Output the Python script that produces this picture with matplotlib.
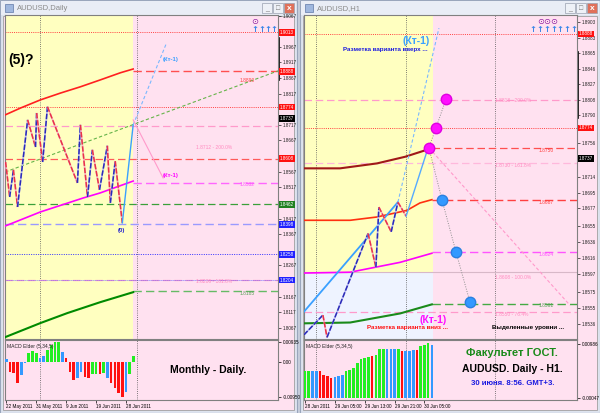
import matplotlib
matplotlib.use("Agg")
import matplotlib.pyplot as plt
from matplotlib.patches import Rectangle

W, H = 600, 413
FONT = ["Liberation Sans", "DejaVu Sans"]
plt.rcParams["font.family"] = FONT

PINK = "#ffe1f0"
YELLOW = "#ffffc0"
LIGHTBLUE = "#eef3ff"
NAVY = "#2b2bb8"
ZRED = "#e8324a"
SKY = "#3aa0ff"
TICK_FS = 3.3

# ---------------- daily chart (left) ----------------
d_dates = ["22 May 2011", "31 May 2011", "9 Jun 2011", "19 Jun 2011", "28 Jun 2011"]
d_date_bars = [0, 8, 16, 24, 32]
d_separators = [9, 35]
d_price_ticks = [1.9067, 1.8967, 1.8917, 1.8867, 1.8817, 1.8717, 1.8667, 1.8567,
                 1.8517, 1.8417, 1.8367, 1.8267, 1.8167, 1.8117, 1.8067]

d_zz_bars = [-0.2, 0.9, 1.9, 3.0, 5.7, 7.8, 8.1, 9.7, 11.0, 19.0, 19.8, 21.7, 23.0,
             24.9, 27.0, 27.8, 29.1, 31.0]
d_zz_prices = [1.8598, 1.8486, 1.8573, 1.8454, 1.8733, 1.8646, 1.8755, 1.8598, 1.8775,
               1.8531, 1.8717, 1.8486, 1.8637, 1.8509, 1.8650, 1.8467, 1.8601, 1.8403]

d_red_ma_bars = [-0.3, 3.8, 9.1, 14.5, 19.8, 25.1, 30.5, 33.9]
d_red_ma = [1.8749, 1.8771, 1.8797, 1.8819, 1.8839, 1.8861, 1.8884, 1.8896]
d_mag_ma_bars = [-0.3, 9.1, 20.6, 25.1, 33.9]
d_mag_ma = [1.8393, 1.8438, 1.8483, 1.8499, 1.8537]
d_grn_ma_bars = [-0.3, 9.1, 16.3, 25.1, 33.9]
d_grn_ma = [1.8037, 1.8082, 1.8114, 1.8149, 1.8181]

d_trend_bars = [-0.3, 72.6]
d_trend = [1.8566, 1.8890]
d_up_bars = [31.0, 33.9]
d_up = [1.8403, 1.8717]
d_up_proj_bars = [33.9, 42.7]
d_up_proj = [1.8717, 1.8976]
d_dn_proj_bars = [33.9, 41.9]
d_dn_proj = [1.8733, 1.8547]

d_lvl_top = 1.9013
d_lvl_r1 = 1.8888
d_lvl_r2 = 1.8774
d_lvl_200 = 1.8712
d_lvl_r3 = 1.8608
d_lvl_mag = 1.8532
d_lvl_grn = 1.8462
d_lvl_low = 1.8398
d_lvl_blue = 1.8303
d_lvl_162 = 1.8220
d_lvl_grn2 = 1.8185
d_close = 1.8737

d_macd = [0.0016, -0.0042, -0.0047, -0.0094, -0.0058, -0.0003, 0.0041, 0.0051, 0.0044,
          0.0020, 0.0031, 0.0056, 0.0078, 0.0095, 0.0095, 0.0047, 0.0020, -0.0042,
          -0.0081, -0.0070, -0.0045, -0.0066, -0.0070, -0.0055, -0.0055, -0.0055,
          -0.0050, -0.0070, -0.0097, -0.0120, -0.0140, -0.0159, -0.0136, -0.0055, 0.0031]
d_macd_col = "brrrbbgggbbggggbrrrbbrrggrgbrrrrbgg"

# ---------------- H1 chart (right) ----------------
h_dates = ["28 Jun 2011", "29 Jun 05:00", "29 Jun 13:00", "29 Jun 21:00", "30 Jun 05:00"]
h_date_bars = [0, 8, 16, 24, 32]
h_separators = [3, 27, 51]
h_price_ticks = [1.8903, 1.8883, 1.8865, 1.8846, 1.8827, 1.8808, 1.8790, 1.8756,
                 1.8714, 1.8695, 1.8677, 1.8655, 1.8636, 1.8616, 1.8597, 1.8575, 1.8555,
                 1.8536]

h_zz_bars = [-0.3, 4.8, 5.9, 16.9, 19.0, 19.8, 23.1, 24.9, 27.1]
h_zz_prices = [1.8523, 1.8547, 1.8520, 1.8646, 1.8605, 1.8678, 1.8648, 1.8684, 1.8667]

h_trend_bars = [-0.3, 24.9]
h_trend = [1.8551, 1.8684]
h_leg_bars = [27.1, 33.0]
h_leg = [1.8667, 1.8750]
h_proj_bars = [24.9, 35.9]
h_proj = [1.8684, 1.8895]

h_maroon_bars = [-0.3, 9.4, 19.3, 26.8, 33.0]
h_maroon = [1.8725, 1.8725, 1.8731, 1.8739, 1.8748]
h_red_bars = [-0.3, 12.1, 19.3, 27.3, 30.8, 34.0]
h_red = [1.8662, 1.8662, 1.8666, 1.8674, 1.8683, 1.8687]
h_mag_bars = [-0.3, 12.1, 25.5, 34.0]
h_mag = [1.8598, 1.8599, 1.8611, 1.8622]
h_grn_bars = [-0.3, 12.1, 25.5, 34.0]
h_grn = [1.8537, 1.8538, 1.8549, 1.8560]

h_up_pts_bars = [33.2, 35.1, 37.8]
h_up_pts = [1.8750, 1.8774, 1.8809]
h_dn_pts_bars = [36.7, 40.5, 44.2]
h_dn_pts = [1.8687, 1.8623, 1.8563]
h_diag_bars = [33.2, 71.0]
h_diag = [1.8750, 1.8559]

h_lvl_r1 = 1.8888
h_lvl_r2 = 1.8774
h_lvl_200 = 1.8808
h_lvl_red = 1.8750
h_lvl_162 = 1.8731
h_lvl_red2 = 1.8687
h_lvl_mag = 1.8624
h_lvl_100 = 1.8599
h_lvl_grn = 1.8561
h_lvl_76 = 1.8551
h_close = 1.8737

h_macd = [0.0050, 0.0050, 0.0049, 0.0049, 0.0049, 0.0043, 0.0040, 0.0036, 0.0038,
          0.0041, 0.0043, 0.0049, 0.0052, 0.0056, 0.0065, 0.0072, 0.0073, 0.0076,
          0.0077, 0.0080, 0.0091, 0.0091, 0.0091, 0.0091, 0.0091, 0.0091, 0.0087,
          0.0087, 0.0087, 0.0088, 0.0088, 0.0095, 0.0097, 0.0101, 0.0098]
h_macd_col = "ggbbrrrrbbbgggggggrgggbbbgrbbbrgggb"

MACD_COLORS = {"g": "#22ee22", "r": "#ff1010", "b": "#3399ff"}


def px_rect(x0, y0, x1, y1):
    return [x0 / W, 1 - y1 / H, (x1 - x0) / W, (y1 - y0) / H]


fig = plt.figure(figsize=(6, 4.13), dpi=100)
fig.patch.set_facecolor("#c8cfdc")

bg = fig.add_axes([0, 0, 1, 1])
bg.set_xlim(0, W)
bg.set_ylim(H, 0)
bg.axis("off")


def window(x0, x1, title):
    bg.add_patch(Rectangle((x0, 0), x1 - x0, H, fc="#dde3ee", ec="#9aa6bc", lw=0.8))
    bg.add_patch(Rectangle((x0 + 1, 1), x1 - x0 - 2, 14, fc="#e9edf6", ec="none"))
    bg.add_patch(Rectangle((x0 + 3, 16), x1 - x0 - 6, H - 19, fc=PINK, ec="#a0a0a0", lw=0.6))
    bg.add_patch(Rectangle((x0 + 5, 4), 8, 8, fc="#9fb7de", ec="#6078a8", lw=0.5))
    bg.text(x0 + 17, 8.5, title, fontsize=5.5, color="#8a8a8a", va="center", ha="left")
    for i, fc in enumerate(["#eef1f7", "#eef1f7", "#e0705a"]):
        bx = x1 - 35 + i * 11
        bg.add_patch(Rectangle((bx, 3), 10, 10, fc=fc, ec="#9aa0b0", lw=0.5))
    bg.text(x1 - 30, 9, "_", fontsize=5, color="#777", ha="center", va="center")
    bg.text(x1 - 19, 8, "□", fontsize=5, color="#777", ha="center", va="center")
    bg.text(x1 - 8, 8, "x", fontsize=6, color="white", ha="center", va="center",
            fontweight="bold")


window(0, 297, "AUDUSD,Daily")
window(300, 600, "AUDUSD,H1")


def style_axes(ax, xlim, ylim, ticks):
    ax.set_facecolor(PINK)
    ax.set_xlim(*xlim)
    ax.set_ylim(*ylim)
    ax.yaxis.tick_right()
    ax.set_yticks(ticks)
    ax.set_yticklabels([f"{t:.4f}" for t in ticks])
    ax.tick_params(axis="y", labelsize=TICK_FS, length=2, pad=1.5, width=0.5,
                   colors="#222222")
    ax.set_xticks([])
    for s in ax.spines.values():
        s.set_color("#808080")
        s.set_linewidth(0.8)


def tag(ax, price, fc, tc="white", text=None):
    ax.text(1.008, price, text or f"{price:.4f}", transform=ax.get_yaxis_transform(),
            fontsize=TICK_FS, color=tc, va="center", ha="left", clip_on=False, zorder=5,
            bbox=dict(boxstyle="square,pad=0.2", fc=fc, ec="none"))


def zigzag(ax, xs, ys):
    for i in range(len(xs) - 1):
        up = ys[i + 1] > ys[i]
        col = NAVY if up else ZRED
        under = "#b8b8f0" if up else "#f4b0c0"
        ax.plot(xs[i:i + 2], ys[i:i + 2], color=under, lw=1.2, zorder=4,
                solid_capstyle="butt")
        ax.plot(xs[i:i + 2], ys[i:i + 2], color=col, lw=1.1, zorder=4,
                ls=(0, (3.5, 1.2)), solid_capstyle="butt")


def macd_panel(ax, values, cols, xlim, ylim, yt, ytl, date_bars, dates, seps):
    ax.set_facecolor(PINK)
    ax.set_xlim(*xlim)
    ax.set_ylim(*ylim)
    ax.bar(range(len(values)), values, width=0.7,
           color=[MACD_COLORS[c] for c in cols], zorder=3)
    ax.yaxis.tick_right()
    ax.set_yticks(yt)
    ax.set_yticklabels(ytl)
    ax.tick_params(axis="y", labelsize=TICK_FS, length=2, pad=1.5, width=0.5)
    ax.set_xticks(date_bars)
    ax.set_xticklabels(dates, ha="left")
    ax.tick_params(axis="x", labelsize=TICK_FS, length=2, pad=1.2, width=0.5)
    for b in seps:
        ax.axvline(b, color="#555555", ls=(0, (1, 1.6)), lw=0.6, zorder=2)
    ax.text(0.008, 0.94, "MACD Elder (5,34,5)", transform=ax.transAxes, fontsize=3.6,
            color="#222222", va="top", ha="left")
    for s in ax.spines.values():
        s.set_color("#808080")
        s.set_linewidth(0.8)


# ---------- left main ----------
axL = fig.add_axes(px_rect(5, 15, 278, 339))
dxl = (-0.35, 72.6)
style_axes(axL, dxl, (1.8031, 1.9069), d_price_ticks)
axL.axvspan(dxl[0], 33.9, color=YELLOW, zorder=0, lw=0)
for b in d_separators:
    axL.axvline(b, color="#555555", ls=(0, (1, 1.6)), lw=0.6, zorder=1)

axL.axhline(d_lvl_top, color="#ff4040", ls=(0, (1, 1.2)), lw=0.7, zorder=2)
axL.axhline(d_lvl_r2, color="#ff4040", ls=(0, (1, 1.2)), lw=0.7, zorder=2)
axL.axhline(d_lvl_200, color="#ff9acb", ls=(0, (6, 3)), lw=0.9, zorder=2)
axL.axhline(d_lvl_r3, color="#ff5a5a", ls=(0, (6, 3)), lw=0.9, zorder=2)
axL.axhline(d_lvl_grn, color="#3aa03a", ls=(0, (6, 3)), lw=0.9, zorder=2)
axL.axhline(d_lvl_low, color="#9a9aff", ls=(0, (6, 3)), lw=1.0, zorder=2)
axL.axhline(d_lvl_blue, color="#3030ff", ls=(0, (1, 1.4)), lw=0.7, zorder=2)
axL.axhline(d_lvl_162, color="#ff9acb", ls=(0, (6, 3)), lw=0.9, zorder=2)
axL.axhline(d_lvl_162, color="#5050ff", ls=(0, (1, 1.4)), lw=0.6, zorder=2)
axL.hlines(d_lvl_r1, 33.9, dxl[1], color="#ff5050", ls=(0, (6, 3)), lw=1.0, zorder=2)
axL.hlines(d_lvl_mag, 33.9, dxl[1], color="#ff66ff", ls=(0, (6, 3)), lw=1.0, zorder=2)
axL.hlines(d_lvl_grn2, 33.9, dxl[1], color="#66bb66", ls=(0, (6, 3)), lw=1.0, zorder=2)

axL.plot(d_trend_bars, d_trend, color="#66b44a", ls=(0, (3, 2)), lw=0.8, zorder=2)
axL.plot(d_red_ma_bars, d_red_ma, color="#ff2020", lw=1.2, zorder=3)
axL.plot(d_mag_ma_bars, d_mag_ma, color="#ff00ff", lw=1.2, zorder=3)
axL.plot(d_grn_ma_bars, d_grn_ma, color="#008a00", lw=1.5, zorder=3)
zigzag(axL, d_zz_bars, d_zz_prices)
axL.plot(d_up_bars, d_up, color=SKY, lw=1.0, zorder=4)
axL.plot(d_up_proj_bars, d_up_proj, color="#7ab8ff", ls=(0, (3, 2)), lw=0.8, zorder=4)
axL.plot(d_dn_proj_bars, d_dn_proj, color="#ff9acb", lw=0.8, zorder=4)

small = dict(fontsize=3.5, ha="left", va="center", zorder=6)
axL.text(0.70, 0.590, "1.8712 - 200.0%", transform=axL.transAxes, color="#ff8ac0",
         **small)
axL.text(0.86, 0.798, "1.8890", transform=axL.transAxes, color="#ff4040", **small)
axL.text(0.86, 0.478, "1.8532", transform=axL.transAxes, color="#ff55ff", **small)
axL.text(0.70, 0.178, "1.8206 - 161.8%", transform=axL.transAxes, color="#ff8ac0",
         **small)
axL.text(0.86, 0.14, "1.8185", transform=axL.transAxes, color="#5aa05a", **small)

fig.text(8 / W, 1 - 60 / H, "(5)?", fontsize=10, fontweight="bold", color="black",
         va="center", ha="left")
fig.text(163 / W, 1 - 59 / H, "(Кт-1)", fontsize=4.3, fontweight="bold", color=SKY,
         va="center", ha="left")
fig.text(163 / W, 1 - 175 / H, "(Кт-1)", fontsize=4.3, fontweight="bold",
         color="#ff00ff", va="center", ha="left")
fig.text(118 / W, 1 - 230 / H, "(0)", fontsize=4.3, fontweight="bold", color="#2020d0",
         va="center", ha="left")
fig.text(255 / W, 1 - 21 / H, "⊙", fontsize=6, color="#9020a0", va="center",
         ha="center", family=["DejaVu Sans"])
for x in [255, 261.5, 268, 274]:
    fig.text(x / W, 1 - 30 / H, "↑", fontsize=6, fontweight="bold", color="#3a86e8",
             va="center", ha="center", family=["DejaVu Sans"])
bg.plot([247, 278], [36.5, 36.5], color="#22aa22", lw=1.2)
bg.plot([278.5, 278.5], [38, 80], color="black", lw=1.2)

tag(axL, d_lvl_top, "#ff1010")
tag(axL, d_lvl_r1, "#ff1010")
tag(axL, d_lvl_r2, "#ff1010")
tag(axL, d_close, "black")
tag(axL, d_lvl_r3, "#ff1010")
tag(axL, d_lvl_grn, "#208020")
tag(axL, d_lvl_low, "#2020ff")
tag(axL, d_lvl_blue, "#2020ff", text="1.8258")
tag(axL, d_lvl_162, "#2020ff", text="1.8204")

# ---------- left MACD ----------
axLm = fig.add_axes(px_rect(5, 340, 278, 400))
macd_panel(axLm, d_macd, d_macd_col, dxl, (-0.0173, 0.0103),
           [0.0094, 0.0, -0.0159], ["0.00935", "0.00", "-0.00950"],
           d_date_bars, d_dates, d_separators)
axLm.text(0.605, 0.5, "Monthly - Daily.", transform=axLm.transAxes, fontsize=7.5,
          fontweight="heavy", color="black", va="center", ha="left")

# ---------- right main ----------
axR = fig.add_axes(px_rect(304, 15, 577, 339))
hxl = (-0.27, 72.9)
style_axes(axR, hxl, (1.8518, 1.8911), h_price_ticks)
axR.fill_between([hxl[0], 34.3], h_lvl_100, 1.8911, color=YELLOW, zorder=0, lw=0)
axR.fill_between([hxl[0], 34.3], 1.8518, h_lvl_100, color=LIGHTBLUE, zorder=0, lw=0)
for b in h_separators:
    axR.axvline(b, color="#555555", ls=(0, (1, 1.6)), lw=0.6, zorder=1)

axR.axhline(h_lvl_r1, color="#ff4040", ls=(0, (1, 1.2)), lw=0.7, zorder=2)
axR.axhline(h_lvl_r2, color="#ff4040", ls=(0, (1, 1.2)), lw=0.7, zorder=2)
axR.axhline(h_lvl_200, color="#ff9acb", ls=(0, (6, 3)), lw=0.9, zorder=2)
axR.axhline(h_lvl_162, color="#ffb8dc", ls=(0, (6, 3)), lw=0.9, zorder=2)
axR.axhline(h_lvl_100, color="#d8b8c8", lw=0.8, zorder=2)
axR.axhline(h_lvl_76, color="#ff9acb", ls=(0, (6, 3)), lw=0.9, zorder=2)
axR.hlines(h_lvl_red, 34.0, hxl[1], color="#ff5050", ls=(0, (6, 3)), lw=0.9, zorder=2)
axR.hlines(h_lvl_red2, 34.0, hxl[1], color="#ff4040", ls=(0, (6, 3)), lw=1.0, zorder=2)
axR.hlines(h_lvl_mag, 34.0, hxl[1], color="#ff55ff", ls=(0, (6, 3)), lw=1.0, zorder=2)
axR.hlines(h_lvl_grn, 34.0, hxl[1], color="#44aa44", ls=(0, (6, 3)), lw=1.0, zorder=2)

axR.plot(h_maroon_bars, h_maroon, color="#a01818", lw=1.5, zorder=3)
axR.plot(h_red_bars, h_red, color="#ff3010", lw=1.2, zorder=3)
axR.plot(h_mag_bars, h_mag, color="#ff00ff", lw=1.2, zorder=3)
axR.plot(h_grn_bars, h_grn, color="#1a8a1a", lw=1.5, zorder=3)
axR.plot(h_diag_bars, h_diag, color="#ff9acb", ls=(0, (3, 2)), lw=0.8, zorder=3)
axR.plot(h_trend_bars, h_trend, color=SKY, lw=1.3, zorder=4)
zigzag(axR, h_zz_bars, h_zz_prices)
axR.plot(h_leg_bars, h_leg, color="#55aaff", lw=1.0, zorder=4)
axR.plot(h_proj_bars, h_proj, color="#7ab8ff", ls=(0, (3, 2)), lw=0.8, zorder=4)
axR.plot([h_up_pts_bars[0]] + h_up_pts_bars, [h_up_pts[0]] + h_up_pts, color="#909090",
         ls=(0, (1, 1.5)), lw=0.7, zorder=4)
axR.plot([h_up_pts_bars[0]] + h_dn_pts_bars, [h_up_pts[0]] + h_dn_pts, color="#909090",
         ls=(0, (1, 1.5)), lw=0.7, zorder=4)
axR.plot(h_up_pts_bars, h_up_pts, "o", ms=7.5, color="#ff10ff", mec="#e000e0", zorder=6)
axR.plot(h_dn_pts_bars, h_dn_pts, "o", ms=7.5, color="#3399ff", mec="#2a80e0", zorder=6)

axR.text(0.70, 0.735, "1.8818 - 200.0%", transform=axR.transAxes, color="#ff8ac0",
         **small)
axR.text(0.86, 0.583, "1.8750", transform=axR.transAxes, color="#ff4040", **small)
axR.text(0.70, 0.537, "1.8730 - 161.8%", transform=axR.transAxes, color="#ff8ac0",
         **small)
axR.text(0.86, 0.422, "1.8687", transform=axR.transAxes, color="#ff4040", **small)
axR.text(0.86, 0.262, "1.8624", transform=axR.transAxes, color="#ff55ff", **small)
axR.text(0.70, 0.19, "1.8608 - 100.0%", transform=axR.transAxes, color="#ff8ac0",
         **small)
axR.text(0.86, 0.102, "1.8561", transform=axR.transAxes, color="#5aa05a", **small)
axR.text(0.70, 0.075, "1.8550 - 76.4%", transform=axR.transAxes, color="#ff8ac0",
         **small)

fig.text(416 / W, 1 - 41 / H, "(Кт-1)", fontsize=7.5, fontweight="bold", color=SKY,
         va="center", ha="center")
fig.text(428 / W, 1 - 49 / H, "Разметка варианта вверх ...", fontsize=4.5,
         fontweight="bold", color="#1a1ae0", va="center", ha="right")
fig.text(433 / W, 1 - 320 / H, "(Кт-1)", fontsize=7.5, fontweight="bold",
         color="#ff10ff", va="center", ha="center")
fig.text(367 / W, 1 - 328 / H, "Разметка варианта вниз ...", fontsize=4.5,
         fontweight="bold", color="#ff1010", va="center", ha="left")
fig.text(492 / W, 1 - 328 / H, "Выделенные уровни ...", fontsize=4.5,
         fontweight="bold", color="black", va="center", ha="left")
bg.plot([483], [327], "o", ms=7.5, color="#3399ff", mec="#2a80e0")
bg.plot([568], [327], "o", ms=7.5, color="#ff10ff", mec="#e000e0")
fig.text(548 / W, 1 - 21 / H, "⊙⊙⊙", fontsize=6, color="#9020a0", va="center",
         ha="center", family=["DejaVu Sans"])
for i in range(7):
    x = 533 + i * 6.8
    fig.text(x / W, 1 - 30 / H, "↑", fontsize=6, fontweight="bold", color="#3a86e8",
             va="center", ha="center", family=["DejaVu Sans"])
bg.plot([524, 577], [36.5, 36.5], color="#66bb66", lw=1.2)
bg.plot([577.5, 577.5], [52, 118], color="black", lw=1.2)

tag(axR, h_lvl_r1, "#ff1010")
tag(axR, h_lvl_r2, "#ff1010")
tag(axR, h_close, "black")

# ---------- right MACD ----------
axRm = fig.add_axes(px_rect(304, 340, 577, 400))
macd_panel(axRm, h_macd, h_macd_col, hxl, (-0.0004, 0.0107),
           [0.0099, -0.0001], ["0.00986", "-0.00047"],
           h_date_bars, h_dates, h_separators)
axRm.text(0.595, 0.78, "Факультет ГОСТ.", transform=axRm.transAxes, fontsize=8,
          fontweight="bold", color="#1a8a1a", va="center", ha="left")
axRm.text(0.58, 0.52, "AUDUSD. Daily - H1.", transform=axRm.transAxes, fontsize=7.5,
          fontweight="bold", color="black", va="center", ha="left")
axRm.text(0.61, 0.28, "30 июня. 8:56. GMT+3.", transform=axRm.transAxes, fontsize=5.6,
          fontweight="bold", color="#1a1ae0", va="center", ha="left")

fig.savefig("out.png", dpi=100, facecolor=fig.get_facecolor())
